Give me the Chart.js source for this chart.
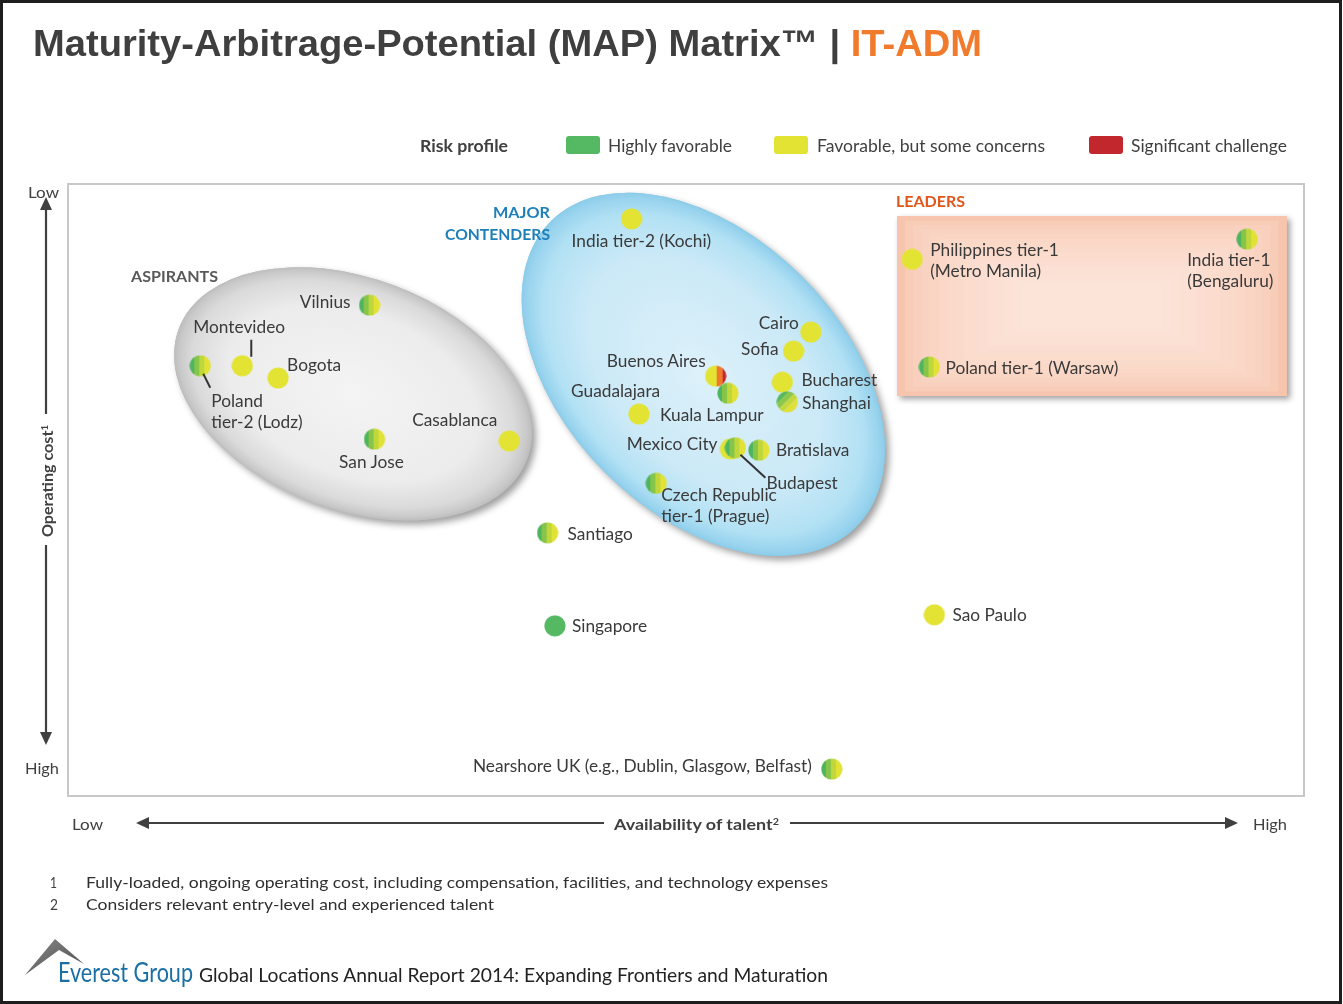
<!DOCTYPE html>
<html><head><meta charset="utf-8">
<script src="https://cdn.jsdelivr.net/npm/chart.js@4"></script>
<style>
body{margin:0;background:#fff;width:1343px;height:1004px;overflow:hidden;position:relative;font-family:Lato,"Open Sans",sans-serif;color:#404040;}
#frame{position:absolute;left:0;top:0;width:1342px;height:1004px;box-sizing:border-box;border:3px solid #1e1e1e;pointer-events:none;z-index:5}
canvas#c{position:absolute;left:0;top:0}
.t{position:absolute;white-space:nowrap;transform-origin:0 50%;line-height:1;}
.pl{position:absolute;white-space:nowrap;line-height:1;font-size:17.3px;color:#3a3a3a;font-family:Lato,sans-serif;}
.sw{position:absolute;width:34px;height:18px;border-radius:3px;}
sup{font-size:0.6em;vertical-align:0.55em;line-height:0}
svg{position:absolute;left:0;top:0}
</style></head>
<body>
<canvas id="c" width="1343" height="1004"></canvas>
<svg width="1343" height="1004">
  <g stroke="#404040" stroke-width="2.2" fill="none">
    <line x1="46" y1="208" x2="46" y2="414"/>
    <line x1="46" y1="545" x2="46" y2="734"/>
    <line x1="148" y1="823" x2="604" y2="823"/>
    <line x1="790" y1="823" x2="1227" y2="823"/>
  </g>
  <g fill="#404040">
    <polygon points="46,197 40,210 52,210"/>
    <polygon points="46,745 40,732 52,732"/>
    <polygon points="136,823 149,817 149,829"/>
    <polygon points="1238,823 1225,817 1225,829"/>
  </g>
  <defs><linearGradient id="mg" x1="0" y1="0" x2="1" y2="1"><stop offset="0" stop-color="#8a8a8a"/><stop offset="1" stop-color="#4a4a4a"/></linearGradient></defs>
  <polygon points="55,939 84,964 59,950 25,975" fill="url(#mg)"/>
</svg>
<div id="frame"></div>
<script>
// ---------------- DATA ----------------
const locations = ["India tier-2 (Kochi)","Vilnius","Montevideo","Bogota","Poland\ntier-2 (Lodz)","Casablanca","San Jose","Cairo","Sofia","Buenos Aires","Guadalajara","Kuala Lampur","Bucharest","Shanghai","Mexico City","Budapest","Bratislava","Czech Republic\ntier-1 (Prague)","Santiago","Singapore","Sao Paulo","Nearshore UK (e.g., Dublin, Glasgow, Belfast)","Philippines tier-1\n(Metro Manila)","India tier-1\n(Bengaluru)","Poland tier-1 (Warsaw)"];
const talentAvailability = [45.6,24.4,14.1,17.0,10.7,35.7,24.8,60.1,58.7,52.4,46.2,53.4,57.8,58.2,53.6,54.0,55.9,47.6,38.8,39.4,70.1,61.8,68.3,95.4,69.7];
const costAttractiveness = [94.3,80.2,70.3,68.3,70.3,58.0,58.3,75.8,72.7,68.6,62.4,65.8,67.6,64.4,56.7,56.9,56.5,51.1,43.0,27.8,29.6,4.4,87.7,91.0,70.1];
const riskProfile = ["yellow","mixed","yellow","yellow","mixed","yellow","mixed","yellow","yellow","yellowRed","yellow","mixed","yellow","mixedDiag","yellow","mixed","mixed","mixed","mixed","green","yellow","mixed","yellow","mixed","mixed"];
const riskLegend = ["Highly favorable","Favorable, but some concerns","Significant challenge"];
const xTickLabels = ["Low","High"];
const yTickLabels = ["Low","High"];
const groupNames = ["ASPIRANTS","MAJOR\nCONTENDERS","LEADERS"];

// ---------------- STYLE / LAYOUT ----------------
const COL = {green:"#55b862", yellow:"#e3e334", red:"#c1272d"};
const labelLayout = {
 "India tier-2 (Kochi)":[-60,22,"left"], "Vilnius":[-19,-3,"right"], "Montevideo":[-49,-39,"left"],
 "Bogota":[9,-13,"left"], "Poland\ntier-2 (Lodz)":[11,35,"left"], "Casablanca":[-12,-21,"right"],
 "San Jose":[-3,23,"center"], "Cairo":[-12,-9,"right"], "Sofia":[-15,-2,"right"],
 "Buenos Aires":[-10,-15,"right"], "Guadalajara":[-68,-23,"left"], "Kuala Lampur":[-68,22,"left"],
 "Bucharest":[19,-2,"left"], "Shanghai":[15,1,"left"], "Mexico City":[-13,-5,"right"],
 "Budapest":[31,35,"left"], "Bratislava":[17,0,"left"], "Czech Republic\ntier-1 (Prague)":[5,12,"left"],
 "Santiago":[20,1,"left"], "Singapore":[17,0,"left"], "Sao Paulo":[18,0,"left"],
 "Nearshore UK (e.g., Dublin, Glasgow, Belfast)":[-20,-3,"right"],
 "Philippines tier-1\n(Metro Manila)":[18,-9,"left"], "India tier-1\n(Bengaluru)":[-60,21,"left"],
 "Poland tier-1 (Warsaw)":[16,1,"left"]
};
const leaderLines = {"Montevideo":[9,-26,9,-9], "Poland\ntier-2 (Lodz)":[3,8,10,22], "Budapest":[5,7,30,30]};

function dot(kind){
  const s=22, c=document.createElement('canvas'); c.width=s; c.height=s;
  const g=c.getContext('2d');
  g.save(); g.beginPath(); g.arc(11,11,10.6,0,Math.PI*2); g.clip();
  const bands = (arr)=>arr.forEach(([a,b,col])=>{g.fillStyle=col; g.fillRect(a,-10,b-a,s+20);});
  if(kind==='green'){g.fillStyle=COL.green; g.fillRect(0,0,s,s);}
  else if(kind==='yellow'){g.fillStyle=COL.yellow; g.fillRect(0,0,s,s);}
  else if(kind==='mixed'){bands([[0,5,'#4fb45e'],[5,10,'#86c44a'],[10,15,'#c0d73c'],[15,22,'#e2e236']]);}
  else if(kind==='mixedDiag'){g.translate(11,11); g.rotate(Math.PI/4); g.translate(-11,-11);
     bands([[-6,5,'#58b85c'],[5,10,'#8cc64a'],[10,15,'#c2d83e'],[15,28,'#dfe03a']]);}
  else if(kind==='yellowRed'){bands([[0,12,COL.yellow],[12,18,'#ef7a2d'],[18,22,COL.red]]);}
  g.restore(); return c;
}
const dotImgs = {}; ['green','yellow','mixed','mixedDiag','yellowRed'].forEach(k=>dotImgs[k]=dot(k));

// regions (centres in data units, sizes in px)
const regions = {
  aspirants:{cx:23.06, cy:65.7, a:186, b:116, rot:20.5, stops:[[0,'#f4f4f4'],[0.7,'#ececec'],[0.9,'#dadada'],[0.97,'#c9c9c9'],[1,'#bdbdbd']]},
  contenders:{cx:51.4, cy:68.9, a:216, b:139, rot:45, stops:[[0,'#ddf1fa'],[0.65,'#cbe9f7'],[0.88,'#b2e1f4'],[0.97,'#98d3ee'],[1,'#8ccce9']]},
  leaders:{x0:67.07, x1:98.62, y0:94.77, y1:65.36}
};

function mix(c1,c2,t){const p=h=>[1,3,5].map(i=>parseInt(h.substr(i,2),16));const a=p(c1),b=p(c2);return 'rgb('+a.map((v,i)=>Math.round(v+(b[i]-v)*t)).join(',')+')';}

const bgPlugin = {
  id:'bg',
  beforeDatasetsDraw(chart){
    const {ctx, chartArea:ca, scales:{x,y}} = chart;
    ctx.save();
    ctx.strokeStyle='#c8c8c8'; ctx.lineWidth=2;
    ctx.strokeRect(ca.left, ca.top, ca.right-ca.left, ca.bottom-ca.top);
    ['aspirants','contenders'].forEach(k=>{
      const r=regions[k], cx=x.getPixelForValue(r.cx), cy=y.getPixelForValue(r.cy), rot=r.rot*Math.PI/180;
      ctx.save();
      ctx.shadowColor='rgba(0,0,0,0.38)'; ctx.shadowBlur=7; ctx.shadowOffsetX=4; ctx.shadowOffsetY=4;
      ctx.beginPath(); ctx.ellipse(cx,cy,r.a,r.b,rot,0,Math.PI*2); ctx.fillStyle=r.stops[r.stops.length-1][1]; ctx.fill();
      ctx.restore();
      ctx.save();
      ctx.translate(cx,cy); ctx.rotate(rot); ctx.scale(1,r.b/r.a);
      const gr=ctx.createRadialGradient(0,0,0,0,0,r.a); r.stops.forEach(s=>gr.addColorStop(s[0],s[1]));
      ctx.beginPath(); ctx.arc(0,0,r.a,0,Math.PI*2); ctx.fillStyle=gr; ctx.fill();
      ctx.restore();
    });
    const L=regions.leaders, lx0=x.getPixelForValue(L.x0), lx1=x.getPixelForValue(L.x1), ly0=y.getPixelForValue(L.y0), ly1=y.getPixelForValue(L.y1);
    const w=lx1-lx0, h=ly1-ly0;
    ctx.save(); ctx.shadowColor='rgba(0,0,0,0.38)'; ctx.shadowBlur=6; ctx.shadowOffsetX=3; ctx.shadowOffsetY=3;
    ctx.fillStyle='#f7c5ad'; ctx.fillRect(lx0,ly0,w,h); ctx.restore();
    const steps=16;
    for(let i=1;i<steps;i++){const t=i/(steps-1); const ix=t*w*0.32, iy=t*h*0.38;
      ctx.fillStyle=mix('#f7c5ad','#fce4d9',Math.pow(t,0.5)); ctx.fillRect(lx0+ix,ly0+iy,w-2*ix,h-2*iy);}
    ctx.restore();
  },
  afterDatasetsDraw(chart){
    const {ctx} = chart, meta=chart.getDatasetMeta(0);
    ctx.save(); ctx.strokeStyle='#333'; ctx.lineWidth=2;
    locations.forEach((n,i)=>{const L=leaderLines[n]; if(!L) return; const p=meta.data[i];
      ctx.beginPath(); ctx.moveTo(p.x+L[0],p.y+L[1]); ctx.lineTo(p.x+L[2],p.y+L[3]); ctx.stroke();});
    ctx.restore();
  },
  afterRender(chart){
    if(chart._labelsDone) return; chart._labelsDone=true;
    const meta=chart.getDatasetMeta(0);
    locations.forEach((n,i)=>{
      const p=meta.data[i], [dx,dy,al]=labelLayout[n];
      n.split('\n').forEach((line,k)=>{
        const d=document.createElement('div'); d.className='pl'; d.textContent=line;
        d.style.left=(p.x+dx)+'px'; d.style.top=(p.y+dy+k*21)+'px';
        const tx = al==='right'?'-100%':al==='center'?'-50%':'0';
        d.style.transform=`translate(${tx},-50%)`;
        document.body.appendChild(d);
      });
    });
  }
};

new Chart(document.getElementById('c'), {
  type:'scatter',
  data:{datasets:[{
    data: locations.map((n,i)=>({x:talentAvailability[i], y:costAttractiveness[i]})),
    pointStyle: riskProfile.map(k=>dotImgs[k]),
    pointRadius: 11
  }]},
  options:{
    responsive:false, animation:false, devicePixelRatio:1,
    layout:{padding:{left:68, top:184, right:39, bottom:208}},
    scales:{x:{type:'linear', min:0, max:100, display:false}, y:{type:'linear', min:0, max:100, display:false}},
    plugins:{legend:{display:false}, tooltip:{enabled:false}}
  },
  plugins:[bgPlugin]
});

// ---------------- TEXT ----------------
function put(html, left, cy, w, style){
  const d=document.createElement('div'); d.className='t'; d.innerHTML=html;
  Object.assign(d.style, style||{}); d.style.left=left+'px'; d.style.top=cy+'px';
  document.body.appendChild(d);
  const nw=d.getBoundingClientRect().width; const f = w ? w/nw : 1;
  d.style.transform=`translateY(-50%) scaleX(${f})`; return d;
}
const base={fontFamily:'Lato, sans-serif', fontSize:'17px', color:'#404040'};
put('Maturity-Arbitrage-Potential (MAP) Matrix™ | <span style="color:#f07b2c">IT-ADM</span>', 33, 43, 949,
    {fontFamily:'"Liberation Sans", Arial, sans-serif', fontWeight:'bold', fontSize:'37px', color:'#3f3f3f'});
put('Risk profile', 420, 145, 88, {...base, fontWeight:'bold'});
[[566,608,732,COL.green],[774,817,1045,COL.yellow],[1089,1131,1287,COL.red]].forEach((s,i)=>{
  const sw=document.createElement('div'); sw.className='sw'; sw.style.left=s[0]+'px'; sw.style.top='136px'; sw.style.background=s[3]; document.body.appendChild(sw);
  put(riskLegend[i], s[1], 145, s[2]-s[1], base);
});
put(yTickLabels[0], 28, 192, 31, {...base, fontSize:'16px'});
put(yTickLabels[1], 25, 768, 34, {...base, fontSize:'16px'});
put(xTickLabels[0], 72, 824, 31, {...base, fontSize:'16px'});
put(xTickLabels[1], 1253, 824, 34, {...base, fontSize:'16px'});
put('Availability of talent<sup>2</sup>', 614, 824, 165, {...base, fontSize:'16px', fontWeight:'bold'});
(function(){const d=document.createElement('div'); d.innerHTML='Operating cost<sup>1</sup>';
  Object.assign(d.style,{position:'absolute',whiteSpace:'nowrap',lineHeight:'1',fontFamily:'Lato, sans-serif',fontSize:'16px',fontWeight:'bold',color:'#404040',left:'47px',top:'481px'});
  document.body.appendChild(d); const nw=d.getBoundingClientRect().width;
  d.style.transformOrigin='50% 50%'; d.style.transform=`translate(-50%,-50%) rotate(-90deg) scaleX(${112/nw})`;})();
put('1', 50, 882, 7, {...base, fontSize:'16px'});
put('Fully-loaded, ongoing operating cost, including compensation, facilities, and technology expenses', 86, 882, 742, {...base, fontSize:'16px', color:'#303030'});
put('2', 50, 904, 8, {...base, fontSize:'16px'});
put('Considers relevant entry-level and experienced talent', 86, 904, 408, {...base, fontSize:'16px', color:'#303030'});
put('Everest Group', 58, 971, 135, {...base, fontSize:'27px', color:'#1b6fa5'});
put('Global Locations Annual Report 2014: Expanding Frontiers and Maturation', 199, 974, 629, {...base, fontSize:'19px', color:'#222'});
put(groupNames[0], 131, 276, 87, {...base, fontSize:'15px', fontWeight:'bold', color:'#595959'});
const gn=groupNames[1].split('\n');
put(gn[0], 493, 212, 57, {...base, fontSize:'15px', fontWeight:'bold', color:'#1f80b9'});
put(gn[1], 445, 234, 105, {...base, fontSize:'15px', fontWeight:'bold', color:'#1f80b9'});
put(groupNames[2], 896, 201, 69, {...base, fontSize:'15px', fontWeight:'bold', color:'#e0561b'});
</script>
</body></html>
